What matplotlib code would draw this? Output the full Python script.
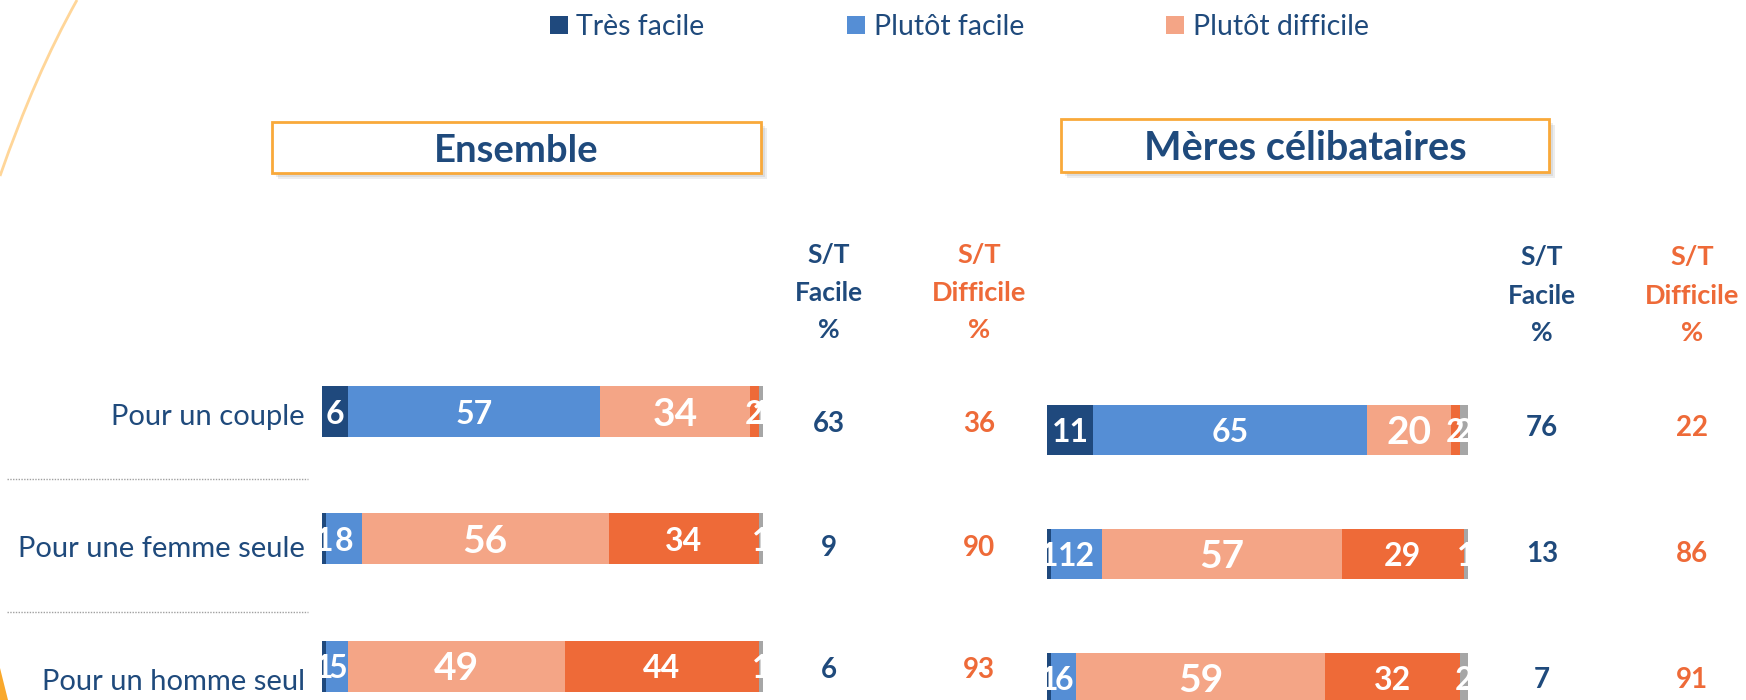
import matplotlib
matplotlib.use('Agg')
import matplotlib.pyplot as plt
from matplotlib.patches import Rectangle, Polygon, PathPatch
from matplotlib.path import Path
from matplotlib.lines import Line2D
import numpy as np

# ---------------- data ----------------
categories = ["Pour un couple", "Pour une femme seule", "Pour un homme seul"]
series_names = ["Très facile", "Plutôt facile", "Plutôt difficile", "Très difficile", "NSP"]

ens_tres_facile = [6, 1, 1]
ens_plutot_facile = [57, 8, 5]
ens_plutot_difficile = [34, 56, 49]
ens_tres_difficile = [2, 34, 44]
ens_nsp = [1, 1, 1]
ens_st_facile = [63, 9, 6]
ens_st_difficile = [36, 90, 93]

mer_tres_facile = [11, 1, 1]
mer_plutot_facile = [65, 12, 6]
mer_plutot_difficile = [20, 57, 59]
mer_tres_difficile = [2, 29, 32]
mer_nsp = [2, 1, 2]
mer_st_facile = [76, 13, 7]
mer_st_difficile = [22, 86, 91]

panel_titles = ["Ensemble", "Mères célibataires"]
header_facile = ["S/T", "Facile", "%"]
header_difficile = ["S/T", "Difficile", "%"]
legend_labels = ["Très facile", "Plutôt facile", "Plutôt difficile"]

# ---------------- style ----------------
plt.rcParams['font.family'] = ['Lato', 'DejaVu Sans']
navy = '#1F4A7C'
colors = ['#1F497D', '#558ED5', '#F4A586', '#EE6A38', '#A6A6A6']
label_sizes = [23, 23, 28, 23, 23]
orange_txt = '#EE6A38'

W, H = 1746, 700
fig = plt.figure(figsize=(W / 100, H / 100), dpi=100)
fig.patch.set_facecolor('white')


def fx(x):
    return x / W


def fy(y):
    return 1 - y / H


def make_axes(x0, x1, c0, step):
    top, bottom = 280, 700
    ax = fig.add_axes([fx(x0), fy(bottom), (x1 - x0) / W, (bottom - top) / H])
    ax.set_xlim(0, 100)
    ax.set_ylim((bottom - c0) / step, (top - c0) / step)
    ax.axis('off')
    return ax


def draw_bars(ax, series, bar_h):
    y = np.arange(len(categories))
    left = np.zeros(len(categories))
    containers = []
    for vals, col, name, fs in zip(series, colors, series_names, label_sizes):
        vals = np.asarray(vals, float)
        bc = ax.barh(y, vals, left=left, height=bar_h, color=col, label=name,
                     linewidth=0)
        for yi, l, v in zip(y, left, vals):
            ax.text(l + v / 2, yi, f"{v:.0f}", ha='center', va='center_baseline',
                    color='white', fontsize=fs, fontweight='bold', zorder=5,
                    clip_on=False)
        containers.append(bc)
        left = left + vals
    return containers


def title_box(x0, x1, y0, y1, text, baseline, size):
    for k in range(3):
        off = 2 + 2 * k
        fig.add_artist(Rectangle((fx(x0 + off), fy(y1 + off)), (x1 - x0) / W,
                                 (y1 - y0) / H, transform=fig.transFigure,
                                 facecolor='black', alpha=0.07, edgecolor='none'))
    fig.add_artist(Rectangle((fx(x0), fy(y1)), (x1 - x0) / W, (y1 - y0) / H,
                             transform=fig.transFigure, facecolor='white',
                             edgecolor='#F9A93A', linewidth=2))
    fig.text(fx((x0 + x1) / 2), fy(baseline), text, ha='center', va='baseline',
             fontsize=size, fontweight='bold', color=navy)


def headers(xf, xd, baselines):
    for line_f, line_d, b in zip(header_facile, header_difficile, baselines):
        fig.text(fx(xf), fy(b), line_f, ha='center', va='baseline', fontsize=19,
                 fontweight='bold', color=navy)
        fig.text(fx(xd), fy(b), line_d, ha='center', va='baseline', fontsize=19.5,
                 fontweight='bold', color=orange_txt)


def st_values(xf, xd, facile, difficile, baselines):
    for f, d, b in zip(facile, difficile, baselines):
        fig.text(fx(xf), fy(b), str(f), ha='center', va='baseline', fontsize=20,
                 fontweight='bold', color=navy)
        fig.text(fx(xd), fy(b), str(d), ha='center', va='baseline', fontsize=20,
                 fontweight='bold', color=orange_txt)


# ---------------- Ensemble panel ----------------
ax1 = make_axes(322, 763, 411.5, 127.25)
cont = draw_bars(ax1, [ens_tres_facile, ens_plutot_facile, ens_plutot_difficile,
                       ens_tres_difficile, ens_nsp], 51 / 127.25)
title_box(272, 761, 122, 173, panel_titles[0], 162, 27.5)
headers(829, 979, [263, 301, 338])
st_values(829, 979, ens_st_facile, ens_st_difficile, [432, 556, 678])

for cat, b in zip(categories, [425, 557, 690]):
    fig.text(fx(305), fy(b), cat, ha='right', va='baseline', fontsize=21,
             color=navy)
for ysep in [479, 612]:
    fig.add_artist(Line2D([fx(7), fx(308)], [fy(ysep), fy(ysep)],
                          transform=fig.transFigure, color='#A0A0A0',
                          linewidth=1, linestyle=(0, (1, 1))))

# ---------------- Mères célibataires panel ----------------
ax2 = make_axes(1047, 1468, 430, 123.75)
draw_bars(ax2, [mer_tres_facile, mer_plutot_facile, mer_plutot_difficile,
                mer_tres_difficile, mer_nsp], 50 / 123.75)
title_box(1061, 1549, 119, 172, panel_titles[1], 160, 28.5)
headers(1542, 1692, [265, 304, 341])
st_values(1542, 1692, mer_st_facile, mer_st_difficile, [436, 562, 688])

# ---------------- legend ----------------
fig.legend(handles=cont[:3], labels=legend_labels, loc='center left',
           bbox_to_anchor=(fx(550), fy(27)), ncol=3, frameon=False, fontsize=20.5,
           handlelength=0.63, handleheight=0.6, handletextpad=0.3,
           columnspacing=5.0, borderpad=0, borderaxespad=0, labelcolor=navy)

# ---------------- decorations ----------------
curve = Path([(fx(77), fy(0)), (fx(35), fy(75)), (fx(0), fy(176))],
             [Path.MOVETO, Path.CURVE3, Path.CURVE3])
fig.add_artist(PathPatch(curve, transform=fig.transFigure, facecolor='none',
                         edgecolor='#FFD699', linewidth=2))
fig.add_artist(Polygon([(fx(0), fy(668)), (fx(8), fy(700)), (fx(0), fy(700))],
                       closed=True, transform=fig.transFigure,
                       facecolor='#F9A82B', edgecolor='none'))

fig.savefig('out.png', dpi=100, facecolor='white')
